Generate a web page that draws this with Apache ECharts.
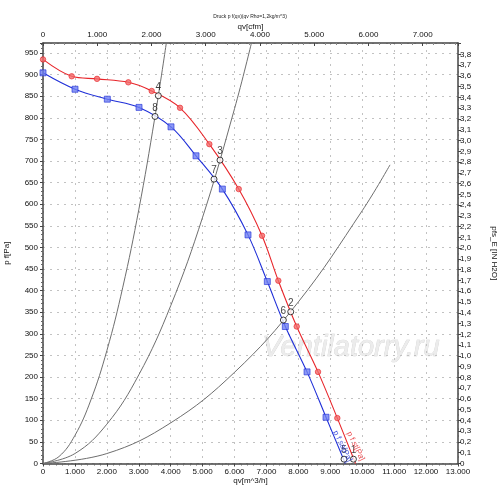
<!DOCTYPE html>
<html><head><meta charset="utf-8">
<script src="https://cdn.jsdelivr.net/npm/echarts@6/dist/echarts.min.js"></script>
<style>html,body{margin:0;padding:0;background:#fff}#c{width:500px;height:499px}</style>
</head><body><div id="c"></div>
<script>
// Fan curves (qv m^3/h, p Pa)
const redQ  = [0, 899, 1692, 2673, 3405, 4292, 5211, 6131, 6861, 7372, 7948, 8615, 9220, 9790];
const redP  = [935, 896, 890, 882, 862, 823, 739, 635, 527, 423, 317, 212, 105, 0];
const blueQ = [0, 1003, 2015, 3008, 4010, 4793, 5618, 6422, 7027, 7591, 8271, 8866, 9470];
const blueP = [904, 866, 843, 824, 779, 712, 635, 529, 421, 317, 212, 107, 0];
// System curves
const sys1Q = [0, 500, 1000, 1500, 2000, 2500, 3000, 3500, 3863];
const sys1P = [0, 16, 65, 147, 261, 408, 587, 799, 973];
const sys2Q = [0, 1000, 2000, 3000, 4000, 5000, 6000, 6530];
const sys2P = [0, 23, 91, 205, 365, 570, 821, 973];
const sys3Q = [0, 2000, 4000, 6000, 8000, 10000, 10870];
const sys3P = [0, 23, 94, 211, 374, 585, 691];
// Operating points
const ptLabels = ['1', '2', '3', '4', '5', '6', '7', '8'];
const ptQ = [9725, 7760, 5545, 3613, 9430, 7529, 5357, 3509];
const ptP = [10, 351, 702, 851, 10, 332, 658, 803];
// Curve name annotations
const annText = ['p f st[Pa]', 'p f sa[Pa]'];
const annQ = [9790, 9380];
const annP = [40, 40];
const annColor = ['#e8262b', '#1f2fd8'];

const CFM = 1.69901;       // m^3/h per cfm
const INH2O = 249.089;     // Pa per inch H2O
const X_MAX = 13000, Y_MAX = 973;

function zip(a, b) { return a.map((v, i) => [v, b[i]]); }
function thousands(v) {
  if (Math.abs(v - Math.round(v / 1000) * 1000) > 1e-6) return '';
  if (v === 0) return '0';
  return Math.round(v / 1000) + '.000';
}
const FONT = 'Liberation Sans, Arial, sans-serif';
const FS = 8;
const axisLineStyle = { color: '#444', width: 1.5 };
const gridLine = { show: true, lineStyle: { color: '#c2c2c2', type: [2, 5], width: 1 } };

const chart = echarts.init(document.getElementById('c'));
chart.setOption({
  animation: false,
  backgroundColor: '#fff',
  textStyle: { fontFamily: FONT },
  title: {
    text: 'Druck p f(qv)(qv Rho=1,2kg/m^3)', left: 'center', top: 14, padding: 0,
    textStyle: { fontSize: 5, fontWeight: 'normal', color: '#222', fontFamily: FONT }
  },
  grid: { left: 43, right: 42, top: 43, bottom: 35.5, containLabel: false, outerBoundsMode: 'none' },
  xAxis: [
    {
      type: 'value', position: 'bottom', min: 0, max: X_MAX, interval: 1000,
      name: 'qv[m^3/h]', nameLocation: 'middle', nameGap: 13, nameMoveOverlap: false,
      nameTextStyle: { fontSize: FS, color: '#111' },
      axisLine: { show: true, onZero: false, lineStyle: axisLineStyle },
      axisTick: { show: true, length: 3, lineStyle: { color: '#444' } },
      minorTick: { show: true, splitNumber: 5, length: 2, lineStyle: { color: '#666' } },
      axisLabel: { fontSize: FS, color: '#111', margin: 4, formatter: thousands, showMaxLabel: true },
      splitLine: gridLine
    },
    {
      type: 'value', position: 'top', min: 0, max: X_MAX / CFM, interval: 1000,
      name: 'qv[cfm]', nameLocation: 'middle', nameGap: 12, nameMoveOverlap: false,
      nameTextStyle: { fontSize: FS, color: '#111' },
      axisLine: { show: true, onZero: false, lineStyle: axisLineStyle },
      axisTick: { show: true, inside: true, length: 3, lineStyle: { color: '#444' } },
      minorTick: { show: true, splitNumber: 5, length: 2, lineStyle: { color: '#888' } },
      axisLabel: { fontSize: FS, color: '#111', margin: 4, formatter: thousands, showMaxLabel: false },
      splitLine: { show: false }
    }
  ],
  yAxis: [
    {
      type: 'value', position: 'left', min: 0, max: Y_MAX, interval: 50,
      name: 'p f[Pa]', nameLocation: 'middle', nameGap: 32, nameMoveOverlap: false,
      nameTextStyle: { fontSize: FS, color: '#111' },
      axisLine: { show: true, onZero: false, lineStyle: axisLineStyle },
      axisTick: { show: true, length: 3, lineStyle: { color: '#444' } },
      minorTick: { show: true, splitNumber: 5, length: 2, lineStyle: { color: '#666' } },
      axisLabel: { fontSize: FS, color: '#111', margin: 5, showMaxLabel: false,
        formatter: v => (Math.abs(v % 50) < 1e-6 ? String(v) : '') },
      splitLine: gridLine
    },
    {
      type: 'value', position: 'right', min: 0, max: Y_MAX / INH2O, interval: 0.1,
      name: 'pfs_E [IN H2O]', nameLocation: 'middle', nameGap: 32, nameRotate: -90, nameMoveOverlap: false,
      nameTextStyle: { fontSize: FS, color: '#111' },
      axisLine: { show: true, onZero: false, lineStyle: axisLineStyle },
      axisTick: { show: true, length: 3, lineStyle: { color: '#444' } },
      axisLabel: { fontSize: FS, color: '#111', margin: 2, showMaxLabel: false,
        formatter: v => (v > 3.85 ? '' : (v === 0 ? '0' : v.toFixed(1).replace('.', ','))) },
      splitLine: { show: false }
    }
  ],
  graphic: [{
    type: 'text', left: 262, top: 333, silent: true, z: 0,
    style: { text: 'Ventilatorry.ru', font: 'italic 29px ' + FONT, fill: '#ececec', stroke: '#cfcfcf', lineWidth: 0.6 }
  }],
  series: [
    { type: 'line', data: zip(sys1Q, sys1P), smooth: 0.4, showSymbol: false, lineStyle: { color: '#6e6e6e', width: 1 }, z: 1 },
    { type: 'line', data: zip(sys2Q, sys2P), smooth: 0.4, showSymbol: false, lineStyle: { color: '#6e6e6e', width: 1 }, z: 1 },
    { type: 'line', data: zip(sys3Q, sys3P), smooth: 0.4, showSymbol: false, lineStyle: { color: '#6e6e6e', width: 1 }, z: 1 },
    { type: 'line', data: zip(redQ, redP), smooth: 0.35, showSymbol: false, lineStyle: { color: '#e8262b', width: 1.1 }, z: 2 },
    { type: 'line', data: zip(blueQ, blueP), smooth: 0.35, showSymbol: false, lineStyle: { color: '#1f2fd8', width: 1.1 }, z: 2 },
    { type: 'scatter', data: zip(redQ, redP).slice(0, -1), symbol: 'circle', symbolSize: 5.5,
      itemStyle: { color: '#f36b6b', borderColor: '#e8262b', borderWidth: 0.8 }, z: 3 },
    { type: 'scatter', data: zip(blueQ, blueP).slice(0, -1), symbol: 'rect', symbolSize: 6,
      itemStyle: { color: '#6f80f2', borderColor: '#1f2fd8', borderWidth: 0.8 }, z: 3 },
    { type: 'scatter', data: ptQ.map((q, i) => ({ value: [q, ptP[i]], name: ptLabels[i] })),
      symbol: 'circle', symbolSize: 6,
      itemStyle: { color: '#fff', borderColor: '#111', borderWidth: 1 },
      label: { show: true, position: 'top', distance: 0, formatter: p => p.name, fontSize: 10, color: '#111' }, z: 4 },
    { type: 'scatter', symbolSize: 0, silent: true,
      data: annQ.map((q, i) => ({ value: [q, annP[i]], name: annText[i], label: { color: annColor[i] } })),
      label: { show: true, position: 'inside', rotate: -64, fontSize: 8, formatter: p => p.name },
      itemStyle: { color: 'transparent' }, z: 4 }
  ]
});
</script>
</body></html>
